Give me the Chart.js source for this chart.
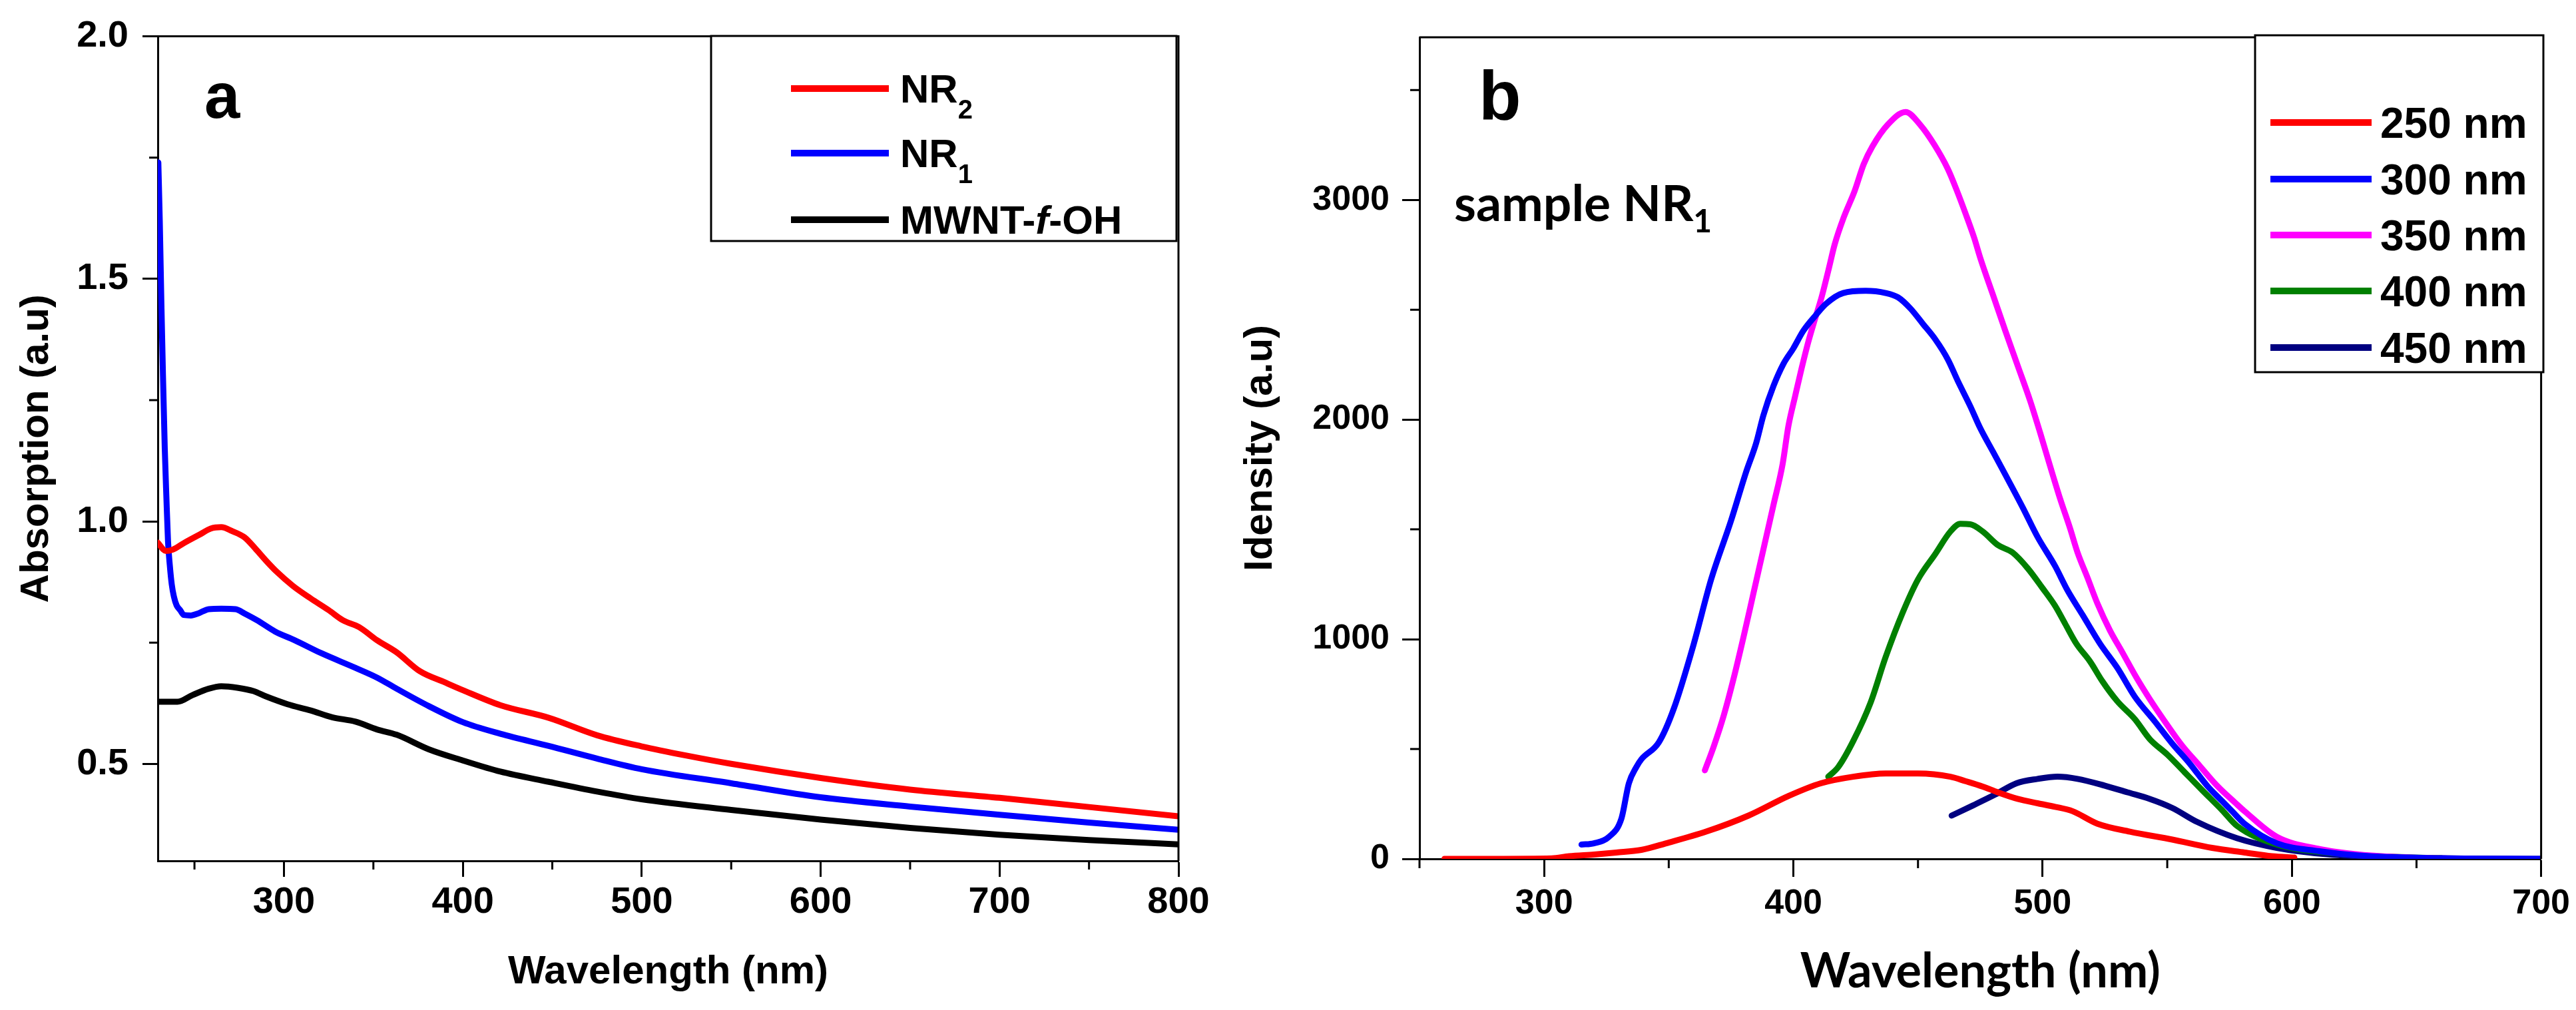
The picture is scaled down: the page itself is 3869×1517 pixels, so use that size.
<!DOCTYPE html>
<html>
<head>
<meta charset="utf-8">
<script src="https://cdn.jsdelivr.net/npm/chart.js@4.4.0/dist/chart.umd.min.js"></script>
<style>
  html, body { margin: 0; padding: 0; background: #fff; }
  body { width: 3869px; height: 1517px; position: relative; overflow: hidden; }
  canvas { position: absolute; top: 0; }
  #chartA { left: 0; }
  #chartB { left: 1820px; }
</style>
</head>
<body>
<canvas id="chartA" width="1869" height="1517"></canvas>
<canvas id="chartB" width="2049" height="1517"></canvas>
<script>
// ---- panel a : absorption spectra ----
const waveNR2 = [229.5, 234, 238, 244, 253, 259, 265, 271, 278, 284, 290, 296, 305, 315, 325, 333, 342, 352, 363, 376, 390, 400, 421, 448, 475, 500, 525, 550, 600, 650, 700, 750, 800];
const absNR2  = [0.956, 0.939, 0.942, 0.955, 0.973, 0.985, 0.988, 0.980, 0.967, 0.944, 0.919, 0.896, 0.867, 0.841, 0.817, 0.796, 0.782, 0.755, 0.730, 0.691, 0.668, 0.652, 0.621, 0.595, 0.559, 0.536, 0.517, 0.500, 0.471, 0.447, 0.430, 0.411, 0.392];

const waveNR1 = [229.8, 230.6, 231.5, 232.4, 233.4, 234.3, 235.2, 236.2, 237.3, 238.5, 240, 242, 244, 248, 252, 258, 265, 273, 278, 285, 295, 306, 321, 340, 352, 363, 381, 400, 421, 448, 475, 500, 550, 600, 650, 700, 750, 800];
const absNR1  = [1.74, 1.62, 1.45, 1.30, 1.15, 1.05, 0.96, 0.91, 0.87, 0.845, 0.827, 0.817, 0.807, 0.806, 0.810, 0.819, 0.820, 0.819, 0.810, 0.796, 0.773, 0.755, 0.728, 0.698, 0.678, 0.655, 0.619, 0.586, 0.562, 0.537, 0.511, 0.489, 0.460, 0.431, 0.412, 0.395, 0.379, 0.364];

const waveMW = [229.9, 240.5, 249, 258, 265, 274, 283, 290, 302, 315, 327, 340, 352, 363, 381, 400, 421, 448, 475, 500, 550, 600, 650, 700, 750, 800];
const absMW  = [0.628, 0.628, 0.642, 0.655, 0.660, 0.657, 0.650, 0.639, 0.623, 0.610, 0.596, 0.587, 0.571, 0.560, 0.530, 0.507, 0.484, 0.463, 0.443, 0.427, 0.405, 0.385, 0.368, 0.354, 0.343, 0.334];

const xTicksA = [300, 400, 500, 600, 700, 800];
const xMinorA = [250, 350, 450, 550, 650, 750];
const yTicksA = [0.5, 1.0, 1.5, 2.0];
const yMinorA = [0.75, 1.25, 1.75];

// ---- panel b : emission spectra of sample NR1 ----
const ex250 = [260, 280, 303, 310, 320, 329, 339, 349, 365, 382, 398, 411, 424, 437, 450, 463, 469, 476, 482, 490, 498, 505, 512, 522, 535, 552, 568, 581, 592, 601];
const em250 = [0, 0, 2, 12, 20, 29, 41, 71, 124, 197, 286, 344, 374, 389, 389, 374, 354, 329, 303, 273, 253, 237, 217, 160, 124, 88, 50, 29, 12, 6];

const ex300 = [315, 320, 326, 331, 334, 337, 339, 346, 352, 360, 367, 375, 381, 385, 388, 392, 396, 400, 404, 409, 413, 420, 429, 437, 442, 447, 452, 457, 462, 466, 471, 475, 480, 485, 492, 498, 505, 510, 516, 523, 530, 537, 545, 552, 559, 566, 572, 576, 581, 594, 611, 627, 660, 700];
const em300 = [65, 71, 100, 183, 344, 418, 453, 530, 683, 977, 1272, 1540, 1760, 1890, 2020, 2152, 2253, 2324, 2404, 2475, 2526, 2576, 2586, 2576, 2556, 2505, 2435, 2364, 2273, 2175, 2060, 1960, 1855, 1750, 1600, 1465, 1333, 1222, 1111, 980, 869, 738, 626, 525, 434, 333, 263, 217, 160, 71, 35, 15, 3, 0];

const ex350 = [364.5, 368, 372, 376, 380, 384, 388, 392, 395.7, 398, 400.6, 403.3, 406, 408.6, 411.3, 414, 416.6, 420.2, 424.6, 428.2, 431.7, 438, 445, 451, 456.6, 462, 465.5, 469, 472.6, 475, 480, 485, 490, 495, 499, 503, 507, 511, 514, 518, 522, 527, 532, 537.5, 543, 549, 556, 563, 570, 577.5, 581, 594, 611, 627, 647, 671];
const em350 = [403, 510, 650, 820, 1010, 1210, 1410, 1610, 1798, 1970, 2101, 2233, 2354, 2455, 2556, 2677, 2798, 2920, 3041, 3162, 3243, 3344, 3400, 3340, 3250, 3140, 3045, 2940, 2825, 2735, 2570, 2405, 2245, 2085, 1940, 1788, 1640, 1505, 1395, 1280, 1162, 1040, 940, 828, 727, 626, 515, 424, 333, 253, 217, 100, 45, 20, 6, 0];

const ex400 = [414, 418, 424, 431, 437, 444, 450, 457, 463, 467, 471, 476, 482, 488, 494, 500, 505, 509, 513.5, 519, 524, 530, 537, 543, 550, 557, 564, 572, 578, 594, 614, 634, 660];
const em400 = [374, 418, 536, 712, 918, 1125, 1272, 1389, 1490, 1525, 1523, 1490, 1429, 1394, 1323, 1232, 1152, 1071, 980, 899, 808, 717, 636, 545, 475, 394, 313, 222, 150, 65, 29, 12, 3];

const ex450 = [463.5, 472, 481, 489.5, 498, 506, 514, 525, 534, 543, 552, 562, 578, 594, 614, 643, 700];
const em450 = [197, 243, 293, 344, 364, 374, 364, 333, 303, 273, 232, 168, 94, 50, 21, 6, 0];

const xTicksB = [300, 400, 500, 600, 700];
const xMinorB = [250, 350, 450, 550, 650];
const yTicksB = [0, 1000, 2000, 3000];
const yMinorB = [500, 1500, 2500, 3500];

const ARIAL = "'Liberation Sans', Arial, sans-serif";
const LATO = "Lato, 'Open Sans', sans-serif";

function pts(xs, ys) {
  return xs.map((x, i) => ({ x: x, y: ys[i] }));
}

// draws "NR_2" with a subscript and "*f*" in italics
function rich(ctx, text, x, y, size, family, sub) {
  const parts = text.split(/(_\d|\*[^*]+\*)/).filter(Boolean);
  let cx = x;
  parts.forEach(p => {
    let t = p, dy = 0;
    ctx.font = `bold ${size}px ${family}`;
    if (p[0] === '_') {
      t = p.slice(1);
      ctx.font = `bold ${sub.size}px ${family}`;
      dy = sub.drop;
    } else if (p[0] === '*') {
      t = p.slice(1, -1);
      ctx.font = `italic bold ${size}px ${family}`;
    }
    ctx.fillText(t, cx, y + dy);
    cx += ctx.measureText(t).width;
  });
}

// frame, minor ticks, boxed legend and panel notes
const panelDecor = {
  id: 'panelDecor',
  afterDraw(chart, args, opts) {
    const ctx = chart.ctx, area = chart.chartArea;
    const xs = chart.scales.x, ys = chart.scales.y;
    ctx.save();
    ctx.strokeStyle = '#000';
    ctx.lineWidth = 3;
    ctx.beginPath();
    ctx.moveTo(area.left, area.top);
    ctx.lineTo(area.right, area.top);
    ctx.lineTo(area.right, area.bottom);
    ctx.stroke();

    ctx.beginPath();
    opts.minorX.forEach(v => {
      const p = xs.getPixelForValue(v);
      ctx.moveTo(p, area.bottom);
      ctx.lineTo(p, area.bottom + opts.minorLen);
    });
    opts.minorY.forEach(v => {
      const p = ys.getPixelForValue(v);
      ctx.moveTo(area.left, p);
      ctx.lineTo(area.left - opts.minorLen, p);
    });
    ctx.stroke();

    const lg = opts.legend;
    ctx.fillStyle = '#fff';
    ctx.fillRect(lg.box[0], lg.box[1], lg.box[2] - lg.box[0], lg.box[3] - lg.box[1]);
    ctx.strokeRect(lg.box[0], lg.box[1], lg.box[2] - lg.box[0], lg.box[3] - lg.box[1]);
    chart.data.datasets.forEach((ds, i) => {
      const yy = lg.rows[i];
      ctx.strokeStyle = ds.borderColor;
      ctx.lineWidth = 10;
      ctx.beginPath();
      ctx.moveTo(lg.line[0], yy);
      ctx.lineTo(lg.line[1], yy);
      ctx.stroke();
      ctx.fillStyle = '#000';
      ctx.textBaseline = 'alphabetic';
      rich(ctx, ds.label, lg.textX, yy + lg.drop, lg.size, ARIAL, lg.sub);
    });

    ctx.fillStyle = '#000';
    ctx.textBaseline = 'alphabetic';
    opts.notes.forEach(n => rich(ctx, n.text, n.x, n.y, n.size, n.family, n.sub));
    ctx.restore();
  }
};

function axisX(min, max, ticks, fontSize, pad, tickLen, height, title) {
  return {
    type: 'linear', min: min, max: max,
    afterBuildTicks: s => { s.ticks = ticks.map(v => ({ value: v })); },
    afterFit: s => { s.height = height; },
    ticks: { color: '#000', font: { family: ARIAL, size: fontSize, weight: 'bold' }, padding: pad,
             maxRotation: 0, autoSkip: false, callback: v => String(v) },
    grid: { drawOnChartArea: false, tickLength: tickLen, tickWidth: 3, tickColor: '#000' },
    border: { color: '#000', width: 3 },
    title: title
  };
}

function axisY(min, max, ticks, fmt, fontSize, pad, tickLen, width, title) {
  return {
    type: 'linear', min: min, max: max,
    afterBuildTicks: s => { s.ticks = ticks.map(v => ({ value: v })); },
    afterFit: s => { s.width = width; },
    ticks: { color: '#000', font: { family: ARIAL, size: fontSize, weight: 'bold' }, padding: pad,
             autoSkip: false, callback: fmt },
    grid: { drawOnChartArea: false, tickLength: tickLen, tickWidth: 3, tickColor: '#000' },
    border: { color: '#000', width: 3 },
    title: title
  };
}

const lineStyle = { point: { radius: 0 }, line: { borderWidth: 9, cubicInterpolationMode: 'monotone', borderJoinStyle: 'round', borderCapStyle: 'round' } };

new Chart(document.getElementById('chartA'), {
  type: 'line',
  data: {
    datasets: [
      { label: 'NR_2', data: pts(waveNR2, absNR2), borderColor: '#ff0000' },
      { label: 'NR_1', data: pts(waveNR1, absNR1), borderColor: '#0000ff' },
      { label: 'MWNT-*f*-OH', data: pts(waveMW, absMW), borderColor: '#000000' }
    ]
  },
  options: {
    responsive: false, animation: false, devicePixelRatio: 1,
    elements: lineStyle,
    layout: { padding: { top: 46, right: 99, left: 0, bottom: 0 } },
    plugins: {
      legend: { display: false },
      tooltip: { enabled: false },
      panelDecor: {
        minorX: xMinorA, minorY: yMinorA, minorLen: 13,
        legend: { box: [1068, 54, 1767, 362], rows: [133, 230, 330], line: [1188, 1335], textX: 1352,
                  size: 60, drop: 21, sub: { size: 40, drop: 24 } },
        notes: [{ text: 'a', x: 307, y: 177, size: 96, family: ARIAL }]
      }
    },
    scales: {
      x: axisX(229.5, 800, xTicksA, 56, 5, 24, 224,
        { display: true, text: 'Wavelength (nm)', color: '#000', font: { family: ARIAL, size: 60, weight: 'bold' }, padding: { top: 0, bottom: 21 } }),
      y: axisY(0.3, 2.0, yTicksA, v => v.toFixed(1), 56, 21, 23, 237,
        { display: true, text: 'Absorption (a.u)', color: '#000', font: { family: ARIAL, size: 60, weight: 'bold' }, padding: { top: 19, bottom: 0 } })
    }
  },
  plugins: [panelDecor]
});

new Chart(document.getElementById('chartB'), {
  type: 'line',
  data: {
    datasets: [
      { label: '250 nm', data: pts(ex250, em250), borderColor: '#ff0000' },
      { label: '300 nm', data: pts(ex300, em300), borderColor: '#0000ff' },
      { label: '350 nm', data: pts(ex350, em350), borderColor: '#ff00ff' },
      { label: '400 nm', data: pts(ex400, em400), borderColor: '#008000' },
      { label: '450 nm', data: pts(ex450, em450), borderColor: '#000080' }
    ]
  },
  options: {
    responsive: false, animation: false, devicePixelRatio: 1,
    elements: lineStyle,
    layout: { padding: { top: 56, right: 49, left: 0, bottom: 0 } },
    plugins: {
      legend: { display: false },
      tooltip: { enabled: false },
      panelDecor: {
        minorX: xMinorB, minorY: yMinorB, minorLen: 14,
        legend: { box: [1567, 53, 2000, 559], rows: [184, 269, 353, 437, 522], line: [1590, 1742], textX: 1755,
                  size: 64, drop: 23, sub: { size: 40, drop: 20 } },
        notes: [
          { text: 'b', x: 401, y: 179, size: 104, family: ARIAL },
          { text: 'sample NR_1', x: 364, y: 332, size: 75, family: LATO, sub: { size: 48, drop: 17 } }
        ]
      }
    },
    scales: {
      x: axisX(250, 700, xTicksB, 52, 9, 27, 227,
        { display: true, text: 'Wavelength (nm)', color: '#000', font: { family: LATO, size: 72, weight: 'bold' }, padding: { top: 0, bottom: 14 } }),
      y: axisY(0, 3740, yTicksB, v => String(v), 52, 19, 26, 312,
        { display: true, text: 'Idensity (a.u)', color: '#000', font: { family: ARIAL, size: 60, weight: 'bold' }, padding: { top: 37, bottom: 0 } })
    }
  },
  plugins: [panelDecor]
});
</script>
</body>
</html>
